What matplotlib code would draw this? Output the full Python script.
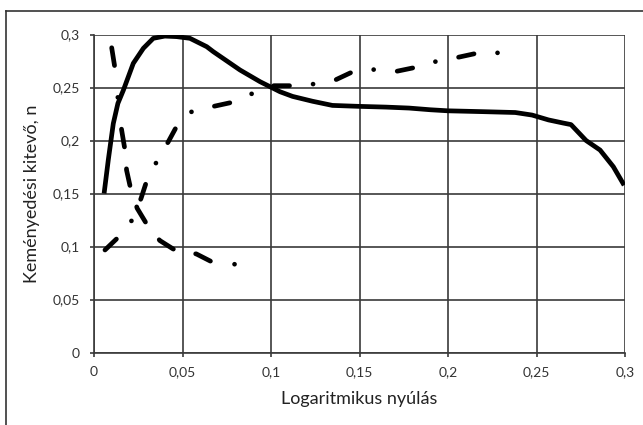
import matplotlib
matplotlib.use("Agg")
import matplotlib.pyplot as plt
from matplotlib.lines import Line2D
from matplotlib.ticker import FuncFormatter

plt.rcParams['font.family'] = ['Lato', 'DejaVu Sans']
plt.rcParams['lines.scale_dashes'] = False

# Solid curve
solid_x = [0.0057, 0.0081, 0.0109, 0.0135, 0.0166, 0.0222, 0.0279, 0.0335, 0.0400,
           0.0467, 0.0542, 0.0637, 0.0674, 0.0825, 0.0938, 0.0994, 0.1051, 0.1122,
           0.1235, 0.1347, 0.1498, 0.1650, 0.1780, 0.1900, 0.2000, 0.2200, 0.2380,
           0.2475, 0.2568, 0.2650, 0.2695, 0.2780, 0.2859, 0.2934, 0.2995]
solid_y = [0.150, 0.182, 0.216, 0.235, 0.2475, 0.2728, 0.2870, 0.2964, 0.2985,
           0.2980, 0.2964, 0.2885, 0.2838, 0.2665, 0.2555, 0.2508, 0.2460, 0.2416,
           0.2370, 0.2331, 0.2322, 0.2315, 0.2306, 0.2290, 0.2280, 0.2272, 0.2264,
           0.2240, 0.2194, 0.2165, 0.2150, 0.2000, 0.1910, 0.1753, 0.1578]

# Rising dash-dot curve
rise_x = [0.0062, 0.0137, 0.0219, 0.0266, 0.0298, 0.0354, 0.0420, 0.0471, 0.0550,
          0.0670, 0.0780, 0.0890, 0.1010, 0.1122, 0.1244, 0.1367, 0.1470, 0.1588,
          0.1713, 0.1817, 0.1939, 0.2060, 0.2173, 0.2296]
rise_y = [0.0967, 0.1087, 0.1257, 0.1455, 0.1620, 0.1800, 0.1989, 0.2146, 0.2270,
          0.2320, 0.2360, 0.2440, 0.2517, 0.2517, 0.2533, 0.2574, 0.2655, 0.2670,
          0.2654, 0.2690, 0.2749, 0.2786, 0.2827, 0.2827]

# Falling dash-dot curve
fall_x = [0.0100, 0.0118, 0.0135, 0.0156, 0.0175, 0.0184, 0.0207, 0.0244, 0.0300,
          0.0372, 0.0462, 0.0578, 0.0672, 0.0800]
fall_y = [0.2875, 0.2685, 0.2400, 0.2100, 0.1910, 0.1720, 0.1546, 0.1360, 0.1205,
          0.1056, 0.0961, 0.0930, 0.0850, 0.0832]

x_ticks = [0, 0.05, 0.1, 0.15, 0.2, 0.25, 0.3]
y_ticks = [0, 0.05, 0.1, 0.15, 0.2, 0.25, 0.3]
x_label = "Logaritmikus nyúlás"
y_label = "Keményedési kitevő, n"

W, H = 643, 425
fig = plt.figure(figsize=(W / 100, H / 100), dpi=100)
ax = fig.add_axes([94 / W, 1 - 352.5 / H, 531 / W, 318 / H])

gridc = '#3a3a3a'
ax.set_xlim(0, 0.3)
ax.set_ylim(0, 0.3)
ax.set_xticks(x_ticks)
ax.set_yticks(y_ticks)
fmt = FuncFormatter(lambda v, p: ('%g' % round(v, 3)).replace('.', ','))
ax.xaxis.set_major_formatter(fmt)
ax.yaxis.set_major_formatter(fmt)
ax.grid(True, color=gridc, linewidth=1.2)
ax.set_axisbelow(True)
for s in ax.spines.values():
    s.set_visible(False)
ax.spines['left'].set_visible(True)
ax.spines['bottom'].set_visible(True)
ax.spines['left'].set_color(gridc)
ax.spines['bottom'].set_color(gridc)
ax.spines['left'].set_linewidth(1.2)
ax.spines['bottom'].set_linewidth(1.2)
ax.tick_params(direction='out', length=3, width=1.2, color=gridc,
               labelsize=10, labelcolor='#333333')
ax.tick_params(axis='y', pad=7)
ax.tick_params(axis='x', pad=7)

k = 0.72  # px -> pt
lw = 3.4

ax.plot(solid_x, solid_y, color='black', linewidth=lw,
        solid_joinstyle='round', solid_capstyle='butt', zorder=3)

l1, = ax.plot(rise_x, rise_y, color='black', linewidth=lw,
              dash_capstyle='round', dash_joinstyle='round', zorder=3)
l1.set_linestyle((0, [15.8 * k, 23.6 * k, 0.01, 23.6 * k]))

l2, = ax.plot(fall_x, fall_y, color='black', linewidth=lw,
              dash_capstyle='round', dash_joinstyle='round', zorder=3)
l2.set_linestyle((0, [18 * k, 32 * k, 0.01, 32 * k, 18 * k, 22 * k, 17 * k, 22.5 * k,
                      17.5 * k, 22.5 * k, 17 * k, 23 * k, 16.5 * k, 24.5 * k, 0.01, 200 * k]))

ax.set_xlabel(x_label, fontsize=13, color='#222222', labelpad=9)
ax.set_ylabel(y_label, fontsize=13, color='#222222', labelpad=9)

# outer frame (left and top edges visible)
fig.add_artist(Line2D([6 / W, 6 / W], [0, 1 - 11 / H], transform=fig.transFigure,
                      color='#333333', linewidth=1.2))
fig.add_artist(Line2D([6 / W, 1], [1 - 11 / H, 1 - 11 / H], transform=fig.transFigure,
                      color='#333333', linewidth=1.2))

fig.savefig('out.png', dpi=100)
